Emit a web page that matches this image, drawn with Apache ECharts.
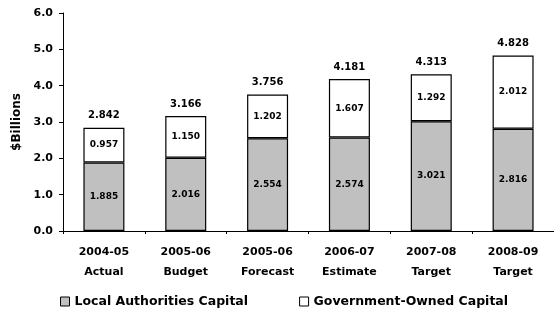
<!DOCTYPE html>
<html><head><meta charset="utf-8">
<script src="https://cdn.jsdelivr.net/npm/echarts@6/dist/echarts.min.js"></script>
<style>html,body{margin:0;padding:0;background:#fff}#c{width:554px;height:321px}</style>
</head><body><div id="c"></div>
<script>
const categories = ['2004-05\nActual','2005-06\nBudget','2005-06\nForecast','2006-07\nEstimate','2007-08\nTarget','2008-09\nTarget'];
const localAuthorities = [1.885, 2.016, 2.554, 2.574, 3.021, 2.816];
const governmentOwned = [0.957, 1.150, 1.202, 1.607, 1.292, 2.012];
const totals = [2.842, 3.166, 3.756, 4.181, 4.313, 4.828];
const yTicks = [0, 1, 2, 3, 4, 5, 6];

const font = '"DejaVu Sans", sans-serif';
const chart = echarts.init(document.getElementById('c'), null, {renderer: 'canvas'});
chart.setOption({
  animation: false,
  backgroundColor: '#fff',
  grid: {left: 63, top: 13, width: 498, bottom: 90, containLabel: false},
  legend: {
    left: 55, top: 290, itemWidth: 9, itemHeight: 9, itemGap: 51,
    icon: 'rect',
    textStyle: {fontFamily: font, fontWeight: 'bold', fontSize: 12.5, color: '#000'},
    data: [
      {name: 'Local Authorities Capital', itemStyle: {color: '#c0c0c0', borderColor: '#000', borderWidth: 1}},
      {name: 'Government-Owned Capital', itemStyle: {color: '#fff', borderColor: '#000', borderWidth: 1}}
    ]
  },
  xAxis: {
    type: 'category', data: categories,
    axisLine: {lineStyle: {color: '#000', width: 1}},
    axisTick: {show: true, length: 3, lineStyle: {color: '#000'}},
    axisLabel: {fontFamily: font, fontWeight: 'bold', fontSize: 11, color: '#000', lineHeight: 20, margin: 11}
  },
  yAxis: {
    type: 'value', min: yTicks[0], max: yTicks[yTicks.length - 1], interval: 1,
    name: '$Billions', nameLocation: 'middle', nameGap: 38, nameRotate: 90,
    nameTextStyle: {fontFamily: font, fontWeight: 'bold', fontSize: 12, color: '#000'},
    axisLine: {show: true, lineStyle: {color: '#000', width: 1}},
    axisTick: {show: true, length: 4, lineStyle: {color: '#000'}},
    splitLine: {show: false},
    axisLabel: {fontFamily: font, fontWeight: 'bold', fontSize: 11, color: '#000', margin: 10,
      formatter: v => v.toFixed(1)}
  },
  series: [
    {
      name: 'Local Authorities Capital', type: 'bar', stack: 's', barWidth: 41,
      data: localAuthorities,
      itemStyle: {color: '#c0c0c0', borderColor: '#000', borderWidth: 1.2},
      label: {show: true, position: 'inside', fontFamily: font, fontWeight: 'bold', fontSize: 9, color: '#000',
        formatter: p => p.value.toFixed(3)}
    },
    {
      name: 'Government-Owned Capital', type: 'bar', stack: 's', barWidth: 41,
      data: governmentOwned,
      itemStyle: {color: '#fff', borderColor: '#000', borderWidth: 1.2},
      label: {show: true, position: 'inside', fontFamily: font, fontWeight: 'bold', fontSize: 9, color: '#000',
        formatter: p => p.value.toFixed(3)}
    },
    {
      name: 'total', type: 'bar', stack: 's', barWidth: 41,
      data: totals.map(() => 0),
      itemStyle: {color: 'transparent'},
      label: {show: true, position: 'top', distance: 7, fontFamily: font, fontWeight: 'bold', fontSize: 10, color: '#000',
        formatter: p => totals[p.dataIndex].toFixed(3)}
    }
  ]
});
</script></body></html>
